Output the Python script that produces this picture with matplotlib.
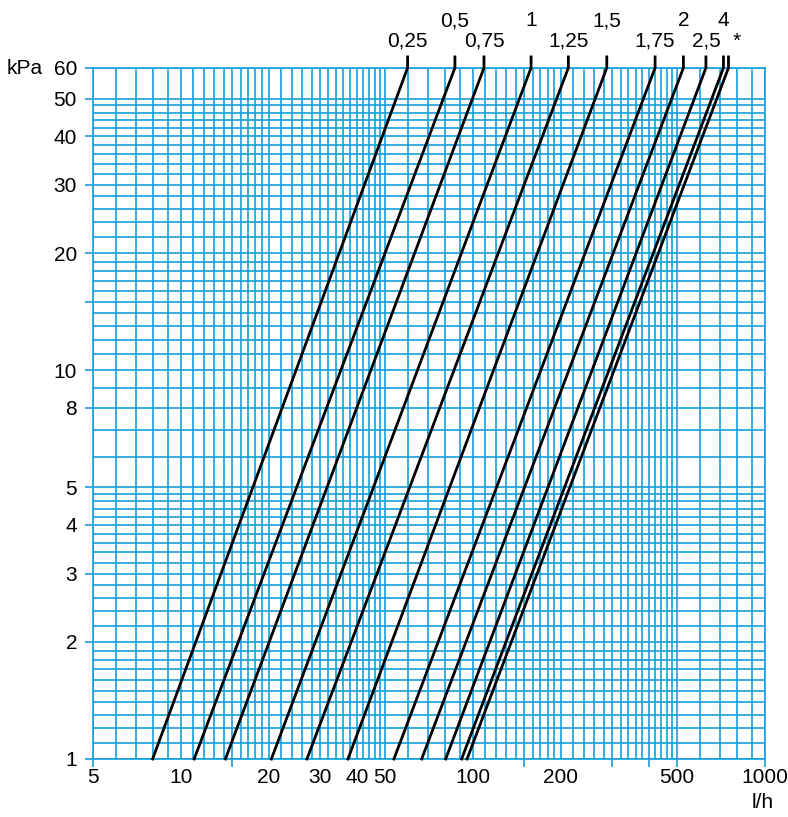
import matplotlib
matplotlib.use('Agg')
import matplotlib.pyplot as plt
from matplotlib.ticker import NullFormatter
import numpy as np

plt.rcParams['font.family'] = ['Liberation Sans', 'DejaVu Sans']

# 阀门开度标签（每条曲线一个）
settings = ['0,25', '0,5', '0,75', '1', '1,25', '1,5', '1,75', '2', '2,5', '4', '*']
# 流量 l/h：1 kPa 与 60 kPa 时
flow_at_1kpa = [8.0, 11.1, 14.2, 20.4, 27.0, 37.3, 53.6, 66.7, 80.6, 91.4, 95.4]
flow_at_60kpa = [59.7, 86.7, 109, 158, 212, 287, 420, 525, 627, 720, 749]
# 标签放在上排还是下排
label_row = ['low', 'up', 'low', 'up', 'low', 'up', 'low', 'up', 'low', 'up', 'low']

# 坐标轴刻度
x_labels = [5, 10, 20, 30, 40, 50, 100, 200, 500, 1000]
y_labels = [1, 2, 3, 4, 5, 8, 10, 20, 30, 40, 50, 60]
x_marks = [5, 15, 150, 300, 400, 500, 1000]
y_marks = [1, 2, 3, 4, 5, 8, 10, 15, 20, 30, 40, 50, 60]

# 网格线位置
x_grid = (list(range(5, 20)) + list(range(20, 50, 2)) + list(range(50, 100, 10))
          + list(range(100, 200, 10)) + list(range(200, 500, 20)) + list(range(500, 1001, 100)))
y_grid = (list(np.arange(1.0, 2.0, 0.1)) + list(np.arange(2.0, 5.0, 0.2))
          + list(range(5, 20)) + list(range(20, 50, 2)) + [50, 60])

BLUE = '#14a0dc'
FS = 15

fig = plt.figure(figsize=(7.88, 8.17), dpi=100)
ax = fig.add_axes([0.118, 0.071, 0.853, 0.846])
ax.set_xscale('log')
ax.set_yscale('log')
ax.set_xlim(5, 1000)
ax.set_ylim(1, 60)

for v in x_grid:
    ax.axvline(v, color=BLUE, lw=1.2, zorder=1)
for v in y_grid:
    ax.axhline(v, color=BLUE, lw=1.2, zorder=1)

for s in ax.spines.values():
    s.set_color(BLUE)
    s.set_linewidth(1.2)

ax.xaxis.remove_overlapping_locs = False
ax.yaxis.remove_overlapping_locs = False
ax.set_xticks(x_labels)
ax.set_xticklabels([str(v) for v in x_labels])
ax.set_yticks(y_labels)
ax.set_yticklabels([str(v) for v in y_labels])
ax.set_xticks(x_marks, minor=True)
ax.set_yticks(y_marks, minor=True)
ax.xaxis.set_minor_formatter(NullFormatter())
ax.yaxis.set_minor_formatter(NullFormatter())
ax.tick_params(which='major', length=0, labelsize=FS)
ax.tick_params(which='minor', length=6, width=1.2, color=BLUE, direction='out')
ax.tick_params(axis='x', which='major', pad=6.5)
ax.tick_params(axis='y', which='major', pad=11.5)

for name, q1, q60, row in zip(settings, flow_at_1kpa, flow_at_60kpa, label_row):
    ax.plot([q1, q60, q60], [1, 60, 64], color='black', lw=2,
            solid_joinstyle='round', clip_on=False, zorder=3)
    dy = 34 if row == 'up' else 19
    dx = 6 if name == '*' else 0
    ax.annotate(name, xy=(q60, 60), xytext=(dx, dy), textcoords='offset points',
                ha='center', va='center', fontsize=FS, annotation_clip=False)

fig.text(7 / 788, 1 - 68 / 817, 'kPa', fontsize=FS, ha='left', va='center')
fig.text(763 / 788, 1 - 803 / 817, 'l/h', fontsize=FS, ha='center', va='center')

fig.savefig('out.png', dpi=100)
